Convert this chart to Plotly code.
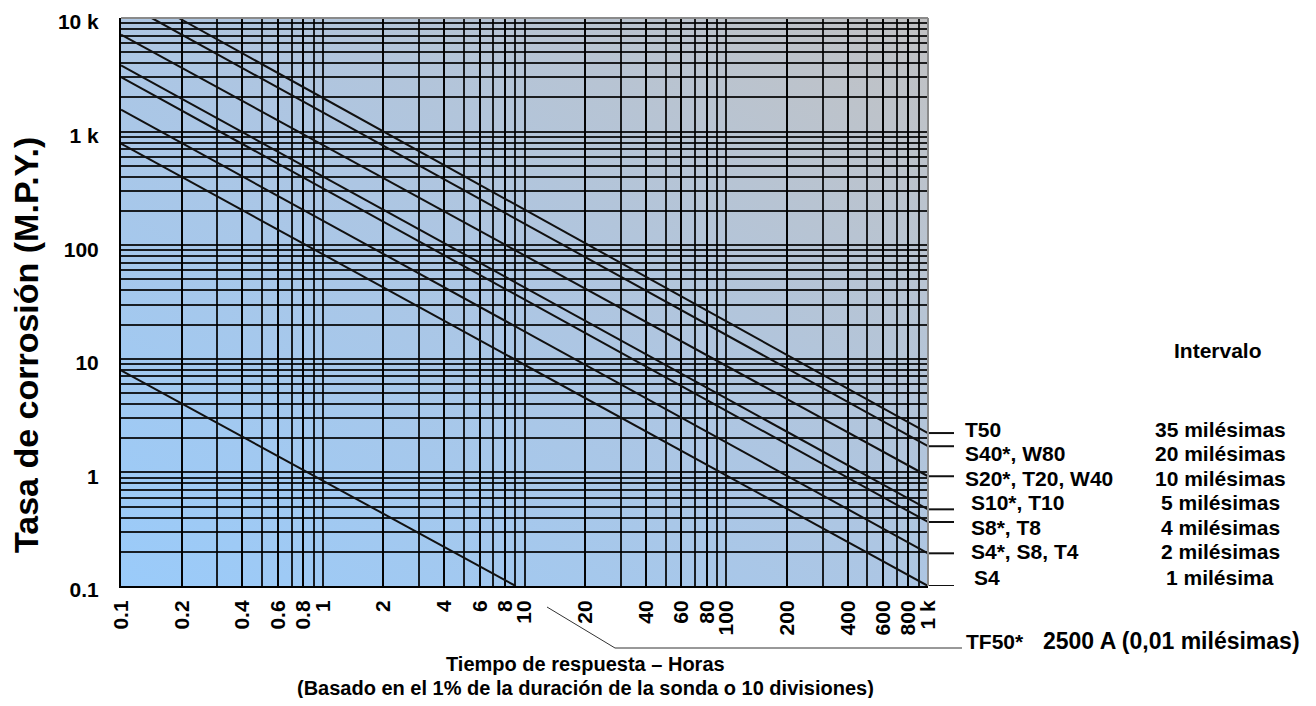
import base64
import plotly.graph_objects as go

# ---------------- data ----------------
probe_labels = ["T50", "S40*, W80", "S20*, T20, W40", "S10*, T10", "S8*, T8", "S4*, S8, T4", "S4"]
span_labels = ["35 milésimas", "20 milésimas", "10 milésimas", "5 milésimas",
               "4 milésimas", "2 milésimas", "1 milésima"]
start_hours = [0.193, 0.142, 0.1, 0.1, 0.1, 0.1, 0.1]
start_mpy = [10000, 10000, 7150, 3830, 3020, 1560, 784]
end_hours = [1000, 1000, 1000, 1000, 1000, 1000, 1000]
end_mpy = [2.22, 1.70, 0.925, 0.473, 0.366, 0.194, 0.1]

tf50_label = "TF50*"
tf50_span = "2500 A (0,01 milésimas)"
tf50_hours = [0.1, 9.04]
tf50_mpy = [7.9, 0.1]

x_tickvals = [0.1, 0.2, 0.4, 0.6, 0.8, 1, 2, 4, 6, 8, 10, 20, 40, 60, 80, 100, 200, 400, 600, 800, 1000]
x_ticktext = ["0.1", "0.2", "0.4", "0.6", "0.8", "1", "2", "4", "6", "8", "10", "20", "40",
              "60", "80", "100", "200", "400", "600", "800", "1 k"]
y_tickvals = [0.1, 1, 10, 100, 1000, 10000]
y_ticktext = ["0.1", "1", "10", "100", "1 k", "10 k"]

y_title = "Tasa de corrosión (M.P.Y.)"
x_title_1 = "Tiempo de respuesta – Horas"
x_title_2 = "(Basado en el 1% de la duración de la sonda o 10 divisiones)"
span_header = "Intervalo"

# ---------------- layout geometry (page pixels; page body has an 8px margin) ----------------
OFF = 8
W, H = 1316 - 2 * OFF, 706 - 2 * OFF
L, R, T, B = 121, 928, 18, 586          # plot area in page pixels
PW, PH = R - L, B - T


def px_x(px):
    return (px - L) / PW


def px_y(py):
    return (B - py) / PH


FONT = "Liberation Sans, Arial, Helvetica, sans-serif"
GRID = "rgba(0,0,0,0.85)"
GW = 1.6

x_minor = [k * 10 ** e for e in range(-1, 3) for k in range(2, 10)]
y_minor = [k * 10 ** e for e in range(-1, 4) for k in range(2, 10)]

fig = go.Figure()

for i in range(len(probe_labels)):
    fig.add_trace(go.Scatter(
        x=[start_hours[i], end_hours[i]], y=[start_mpy[i], end_mpy[i]],
        mode="lines", line=dict(color="#111111", width=2),
        name=probe_labels[i], showlegend=False, hoverinfo="skip"))

fig.add_trace(go.Scatter(
    x=tf50_hours, y=tf50_mpy, mode="lines",
    line=dict(color="#111111", width=2), name=tf50_label,
    showlegend=False, hoverinfo="skip"))

# background gradient (blue bottom-left -> grey top-right)
svg = ('<svg xmlns="http://www.w3.org/2000/svg" width="807" height="568" viewBox="0 0 807 568" '
       'preserveAspectRatio="none"><defs><linearGradient id="g" x1="0" y1="1" x2="1" y2="0">'
       '<stop offset="0" stop-color="#9acbfa"/><stop offset="0.5" stop-color="#adc6e3"/>'
       '<stop offset="1" stop-color="#c2c2c3"/></linearGradient></defs>'
       '<rect width="807" height="568" fill="url(#g)"/></svg>')
src = "data:image/svg+xml;base64," + base64.b64encode(svg.encode()).decode()

shapes = []
# leader lines from the line ends to the labels
for v in end_mpy:
    shapes.append(dict(type="line", xref="x domain", yref="y", x0=1, x1=px_x(954),
                       y0=v, y1=v, line=dict(color="#111111", width=2), layer="above"))
# top and right frame in grey
shapes.append(dict(type="line", xref="x domain", yref="y domain", x0=0, x1=1, y0=1, y1=1,
                   line=dict(color="#8a8a8a", width=2)))
shapes.append(dict(type="line", xref="x domain", yref="y domain", x0=1, x1=1, y0=0, y1=1,
                   line=dict(color="#8a8a8a", width=2)))
# TF50 pointer
shapes.append(dict(type="path", xref="paper", yref="paper",
                   path=f"M {px_x(547)},{px_y(607)} L {px_x(615)},{px_y(648)} L {px_x(962)},{px_y(648)}",
                   line=dict(color="#333333", width=1)))

annotations = []
label_y = [430, 453, 478, 502, 527, 551, 577]
label_x = [963, 963, 963, 969, 969, 969, 972]
for i in range(len(probe_labels)):
    annotations.append(dict(xref="paper", yref="paper", x=px_x(label_x[i]), y=px_y(label_y[i]),
                            text=probe_labels[i], showarrow=False, xanchor="left", yanchor="middle",
                            font=dict(size=21, color="black", family=FONT, weight="bold")))
    annotations.append(dict(xref="paper", yref="paper", x=px_x(1220), y=px_y(label_y[i]),
                            text=span_labels[i], showarrow=False, xanchor="center", yanchor="middle",
                            font=dict(size=21, color="black", family=FONT, weight="bold")))
annotations.append(dict(xref="paper", yref="paper", x=px_x(1218), y=px_y(351),
                        text=span_header, showarrow=False, xanchor="center", yanchor="middle",
                        font=dict(size=21, color="black", family=FONT, weight="bold")))
annotations.append(dict(xref="paper", yref="paper", x=px_x(964), y=px_y(641),
                        text=tf50_label, showarrow=False, xanchor="left", yanchor="middle",
                        font=dict(size=21, color="black", family=FONT, weight="bold")))
annotations.append(dict(xref="paper", yref="paper", x=px_x(1302), y=px_y(641),
                        text=tf50_span, showarrow=False, xanchor="right", yanchor="middle",
                        font=dict(size=23, color="black", family=FONT, weight="bold")))
annotations.append(dict(xref="paper", yref="paper", x=px_x(585), y=px_y(664),
                        text=x_title_1, showarrow=False, xanchor="center", yanchor="middle",
                        font=dict(size=20, color="black", family=FONT, weight="bold")))
annotations.append(dict(xref="paper", yref="paper", x=px_x(585), y=px_y(688),
                        text=x_title_2, showarrow=False, xanchor="center", yanchor="middle",
                        font=dict(size=20, color="black", family=FONT, weight="bold")))
annotations.append(dict(xref="paper", yref="paper", x=px_x(26), y=px_y(345),
                        text=y_title, showarrow=False, textangle=-90, xanchor="center", yanchor="middle",
                        font=dict(size=34, color="black", family=FONT, weight="bold")))

fig.update_layout(
    width=W, height=H,
    margin=dict(l=L - OFF, r=W - (R - OFF), t=T - OFF, b=H - (B - OFF), pad=0),
    paper_bgcolor="white", plot_bgcolor="rgba(0,0,0,0)",
    showlegend=False,
    font=dict(family=FONT, color="black"),
    shapes=shapes, annotations=annotations,
    images=[dict(source=src, xref="paper", yref="paper", x=0, y=1, sizex=1, sizey=1,
                 sizing="stretch", layer="below", xanchor="left", yanchor="top")],
)

fig.update_xaxes(
    type="log", range=[-1, 3], tickmode="array", tickvals=x_tickvals, ticktext=x_ticktext,
    tickangle=-90, ticks="", ticklabelstandoff=4, automargin=False, ticklabeloverflow="allow",
    tickfont=dict(size=21, color="black", family=FONT, weight="bold"),
    showgrid=True, gridcolor=GRID, gridwidth=GW,
    minor=dict(tickmode="array", tickvals=x_minor, showgrid=True, gridcolor=GRID, gridwidth=GW, ticks=""),
    showline=True, linecolor="black", linewidth=2, zeroline=False,
)
fig.update_yaxes(
    type="log", range=[-1, 4], tickmode="array", tickvals=y_tickvals, ticktext=y_ticktext,
    ticks="", ticklabelstandoff=16, ticklabelshift=4, automargin=False, ticklabeloverflow="allow",
    tickfont=dict(size=21, color="black", family=FONT, weight="bold"),
    showgrid=True, gridcolor=GRID, gridwidth=GW,
    minor=dict(tickmode="array", tickvals=y_minor, showgrid=True, gridcolor=GRID, gridwidth=GW, ticks=""),
    showline=True, linecolor="black", linewidth=2, zeroline=False,
)

fig.write_html("out.html")
